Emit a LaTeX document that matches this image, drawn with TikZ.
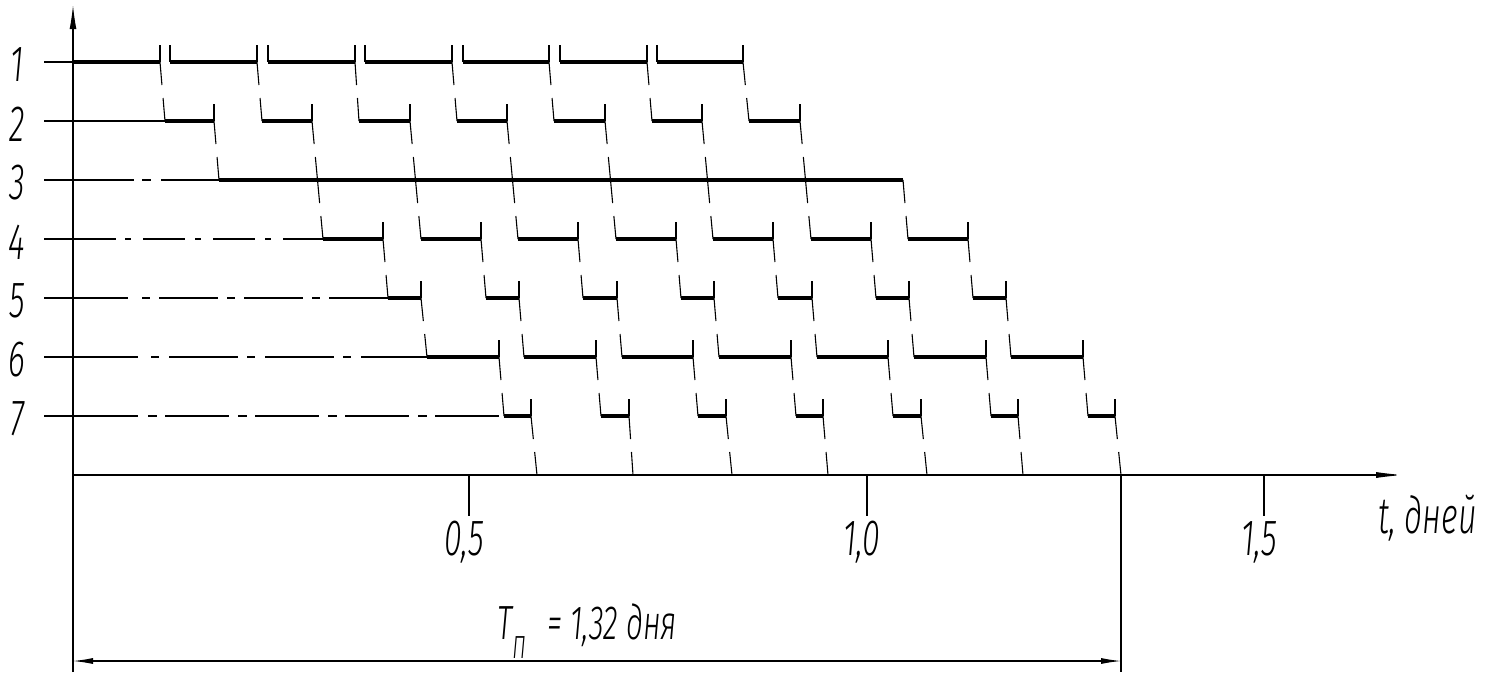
\documentclass[tikz,border=0pt]{standalone}
\usepackage{fontspec}
\usetikzlibrary{arrows.meta,calc}
\newfontfamily\gostfam{Fira Sans}[ItalicFont={Fira Sans Light Italic}, FakeStretch=0.63]
\newcommand\gost{\gostfam\itshape}
\newcommand\xfer[2]{%
  \draw[xferline] (#1) -- ($(#1)!0.39!(#2)$);
  \draw[xferline] ($(#1)!0.61!(#2)$) -- (#2);}
\begin{document}
\begin{tikzpicture}[x=0.5pt,y=-0.5pt,
  baseline line/.style={line width=0.55pt},
  work/.style={line width=2.3pt},
  tickline/.style={line width=0.55pt},
  xferline/.style={line width=0.55pt},
  lbl/.style={font=\gost\fontsize{25.5}{25.5}\selectfont, inner sep=0pt}]
\useasboundingbox (0,0) rectangle (1489,676);

% row labels
\foreach \i in {1,...,7} {
  \pgfmathsetmacro\yy{62+59*(\i-1)}
  \node[lbl] (r\i) at (17,\yy+3) {\i};
}

% base lines
\draw[baseline line] (44,62) -- (73,62);
\draw[baseline line] (44,121) -- (165,121);
\draw[baseline line] (44,180) -- (134,180);
\draw[baseline line, dash pattern=on 4.5pt off 5pt on 29pt off 5pt] (142,180) -- (219,180);
\draw[baseline line] (44,239) -- (116,239);
\draw[baseline line, dash pattern=on 3pt off 6pt on 21pt off 5pt] (125,239) -- (323,239);
\draw[baseline line] (44,298) -- (128,298);
\draw[baseline line, dash pattern=on 4pt off 4.5pt on 29.5pt off 4.5pt] (142,298) -- (388,298);
\draw[baseline line] (44,357) -- (138,357);
\draw[baseline line, dash pattern=on 4pt off 5pt on 34.5pt off 4.5pt] (151,357) -- (427,357);
\draw[baseline line] (44,416) -- (138,416);
\draw[baseline line, dash pattern=on 4.5pt off 4pt on 32pt off 4.5pt] (148,416) -- (504,416);

% row 1
\foreach \s/\e [count=\k] in {73/160,170/257,268/355,365/452,463/549,560/647,657/743} {
  \draw[work] (\s,62) -- (\e,62);
  \draw[tickline] (\e,45) -- (\e,62);
  \ifnum\k>1 \draw[tickline] (\s,45) -- (\s,62); \fi
}
% row 2
\foreach \s/\e in {165/214,262/312,359/410,457/507,554/605,652/702,749/800} {
  \draw[work] (\s,121) -- (\e,121);
  \draw[tickline] (\e,104) -- (\e,121);
}
% row 3
\draw[work] (219,180) -- (903,180);
% row 4
\foreach \s/\e in {323/383,421/481,518/578,616/676,713/773,811/871,908/968} {
  \draw[work] (\s,239) -- (\e,239);
  \draw[tickline] (\e,222) -- (\e,239);
}
% row 5
\foreach \s/\e in {388/421,486/519,583/617,681/714,778/812,876/909,973/1006} {
  \draw[work] (\s,298) -- (\e,298);
  \draw[tickline] (\e,281) -- (\e,298);
}
% row 6
\foreach \s/\e in {427/499,524/596,622/693,719/791,817/888,914/986,1011/1083} {
  \draw[work] (\s,357) -- (\e,357);
  \draw[tickline] (\e,340) -- (\e,357);
}
% row 7
\foreach \s/\e in {504/531,601/629,698/726,796/823,893/921,991/1018,1088/1115} {
  \draw[work] (\s,416) -- (\e,416);
  \draw[tickline] (\e,399) -- (\e,416);
}

% transfers
\foreach \a/\b in {160/165,257/262,355/359,452/457,549/554,647/652,743/749} {\xfer{\a,62}{\b,121}}
\xfer{214,121}{219,180}
\foreach \a/\b in {312/323,410/421,507/518,605/616,702/713,800/811} {
  \pgfmathsetmacro\m{(\a+\b)/2}
  \xfer{\a,121}{\m,180}
  \xfer{\m,180}{\b,239}
}
\xfer{903,180}{908,239}
\foreach \a/\b in {383/388,481/486,578/583,676/681,773/778,871/876,968/973} {\xfer{\a,239}{\b,298}}
\foreach \a/\b in {421/427,519/524,617/622,714/719,812/817,909/914,1006/1011} {\xfer{\a,298}{\b,357}}
\foreach \a/\b in {499/504,596/601,693/698,791/796,888/893,986/991,1083/1088} {\xfer{\a,357}{\b,416}}
\foreach \a/\b in {531/537,629/633,726/732,823/828,921/927,1018/1023,1115/1121} {\xfer{\a,416}{\b,475}}

% axes
\coordinate (O) at (73,475);
\coordinate (ybot) at (73,672);
\coordinate (ytop) at (73,5);
\coordinate (xend) at (1404,475);
\draw[baseline line, -{Latex[length=12pt,width=3.4pt]}] (ybot) -- (ytop);
\draw[baseline line, -{Latex[length=14pt,width=3pt]}] (O) -- (xend);

% ticks and labels
\foreach \x/\t [count=\n] in {469/{0,5},867/{1,0},1264/{1,5}} {
  \draw[tickline] (\x,475) -- (\x,516);
  \node[lbl] (t\n) at (\x-5,542) {\t};
}
\node[lbl, anchor=base west] (tl) at (1378,533) {t, дней};

% dimension
\coordinate (d1) at (73,661);
\coordinate (d2) at (1121,661);
\draw[tickline] (1121,475) -- (1121,672);
\draw[baseline line, {Latex[length=10pt,width=3pt]}-{Latex[length=10pt,width=3pt]}] (d1) -- (d2);
\node[inner sep=0pt, anchor=base west, font=\gost\fontsize{24}{24}\selectfont] (tp) at (497,639)
  {T\raisebox{-0.4em}{\fontsize{16}{16}\selectfont П}\hspace{11pt}=\hspace{4pt}1,32 дня};
\end{tikzpicture}
\end{document}
